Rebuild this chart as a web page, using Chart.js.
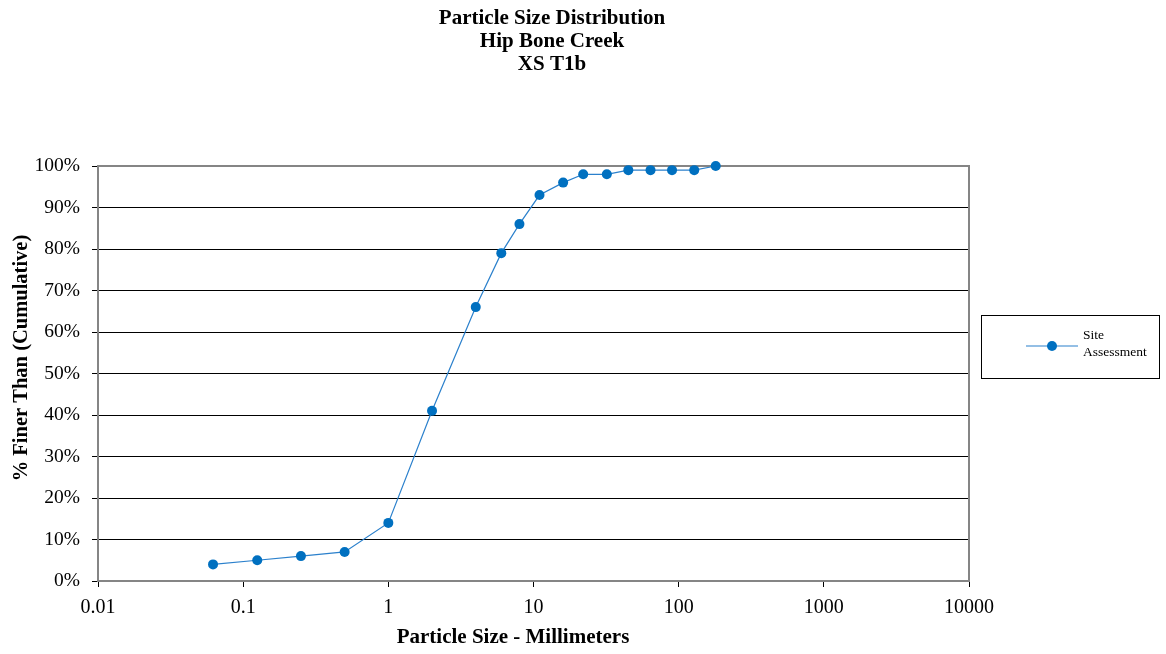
<!DOCTYPE html>
<html>
<head>
<meta charset="utf-8">
<script src="https://cdn.jsdelivr.net/npm/chart.js@4/dist/chart.umd.min.js"></script>
<style>
  html, body { margin: 0; padding: 0; background: #ffffff; }
  #c { display: block; }
</style>
</head>
<body>
<canvas id="c" width="1166" height="654"></canvas>
<script>
// Chart text
const titleLines = ['Particle Size Distribution', 'Hip Bone Creek', 'XS T1b'];
const xAxisTitle = 'Particle Size - Millimeters';
const yAxisTitle = '% Finer Than (Cumulative)';
const seriesName = 'Site Assessment';

// Sieve sizes (mm) and cumulative percent finer
const sizesMm = [0.062, 0.125, 0.25, 0.5, 1, 2, 4, 6, 8, 11, 16, 22, 32, 45, 64, 90, 128, 180];
const percentFiner = [4, 5, 6, 7, 14, 41, 66, 79, 86, 93, 96, 98, 98, 99, 99, 99, 99, 100];

// Axis ticks
const xTickValues = [0.01, 0.1, 1, 10, 100, 1000, 10000];
const xTickLabels = ['0.01', '0.1', '1', '10', '100', '1000', '10000'];
const yTickValues = [0, 10, 20, 30, 40, 50, 60, 70, 80, 90, 100];
const yTickLabels = ['0%', '10%', '20%', '30%', '40%', '50%', '60%', '70%', '80%', '90%', '100%'];

const SERIF = '"Liberation Serif", "Times New Roman", serif';
const LINE_COLOR = '#2b80cc';
const MARK_COLOR = '#0070c0';
const FRAME_COLOR = '#858585';

// Gray frame on the top and right of the plot area
const framePlugin = {
  id: 'frame',
  beforeDatasetsDraw(chart) {
    const { ctx, chartArea: a } = chart;
    ctx.save();
    ctx.strokeStyle = FRAME_COLOR;
    ctx.lineWidth = 2;
    ctx.beginPath();
    ctx.moveTo(a.left, a.top);
    ctx.lineTo(a.right, a.top);
    ctx.lineTo(a.right, a.bottom);
    ctx.stroke();
    ctx.restore();
  }
};

// Titles and the boxed legend
const textPlugin = {
  id: 'texts',
  afterDraw(chart) {
    const ctx = chart.ctx;
    ctx.save();
    ctx.fillStyle = '#000';

    // main title
    ctx.font = 'bold 21px ' + SERIF;
    ctx.textAlign = 'center';
    ctx.textBaseline = 'alphabetic';
    titleLines.forEach((t, i) => ctx.fillText(t, 552, 24 + i * 23));

    // x axis title
    ctx.font = 'bold 21px ' + SERIF;
    ctx.fillText(xAxisTitle, 513, 643);

    // y axis title
    ctx.save();
    ctx.translate(22, 358);
    ctx.rotate(-Math.PI / 2);
    ctx.font = 'bold 20.5px ' + SERIF;
    ctx.textBaseline = 'middle';
    ctx.fillText(yAxisTitle, 0, 0);
    ctx.restore();

    // legend box
    const ds = chart.data.datasets[0];
    ctx.strokeStyle = '#000';
    ctx.lineWidth = 1;
    ctx.strokeRect(981.5, 315.5, 178, 63);
    ctx.strokeStyle = ds.borderColor;
    ctx.lineWidth = 1.2;
    ctx.beginPath();
    ctx.moveTo(1026, 346);
    ctx.lineTo(1078, 346);
    ctx.stroke();
    ctx.fillStyle = ds.pointBackgroundColor;
    ctx.beginPath();
    ctx.arc(1052, 346, 5, 0, Math.PI * 2);
    ctx.fill();
    ctx.fillStyle = '#000';
    ctx.font = '13.5px ' + SERIF;
    ctx.textAlign = 'left';
    ds.label.split(' ').forEach((w, i) => ctx.fillText(w, 1083, 339 + i * 17));
    ctx.restore();
  }
};

new Chart(document.getElementById('c'), {
  type: 'scatter',
  data: {
    datasets: [{
      label: seriesName,
      data: sizesMm.map((x, i) => ({ x: x, y: percentFiner[i] })),
      showLine: true,
      borderColor: LINE_COLOR,
      borderWidth: 1.2,
      pointRadius: 5,
      pointHoverRadius: 5,
      pointBackgroundColor: MARK_COLOR,
      pointBorderColor: MARK_COLOR,
      pointBorderWidth: 0,
      clip: false
    }]
  },
  options: {
    responsive: false,
    animation: false,
    events: [],
    layout: { padding: { top: 166, right: 197, left: 0, bottom: 0 } },
    plugins: {
      legend: { display: false },
      title: { display: false },
      tooltip: { enabled: false }
    },
    scales: {
      x: {
        type: 'logarithmic',
        position: 'bottom',
        min: xTickValues[0],
        max: xTickValues[xTickValues.length - 1],
        afterBuildTicks: s => { s.ticks = xTickValues.map(v => ({ value: v })); },
        afterFit: s => { s.height = 73; },
        ticks: {
          autoSkip: false,
          maxRotation: 0,
          padding: 9,
          color: '#000',
          font: { family: SERIF, size: 20 },
          callback: (v, i) => xTickLabels[i]
        },
        grid: { drawOnChartArea: false, drawTicks: true, tickLength: 6, tickColor: '#000' },
        border: { color: FRAME_COLOR, width: 2 }
      },
      y: {
        type: 'linear',
        min: yTickValues[0],
        max: yTickValues[yTickValues.length - 1],
        afterBuildTicks: s => { s.ticks = yTickValues.map(v => ({ value: v })); },
        afterFit: s => { s.width = 98; },
        ticks: {
          autoSkip: false,
          padding: 12,
          color: '#000',
          font: { family: SERIF, size: 19.5 },
          callback: (v, i) => yTickLabels[i]
        },
        grid: { color: '#000', lineWidth: 1, drawTicks: true, tickLength: 6, tickColor: '#000' },
        border: { color: FRAME_COLOR, width: 2 }
      }
    }
  },
  plugins: [framePlugin, textPlugin]
});
</script>
</body>
</html>
